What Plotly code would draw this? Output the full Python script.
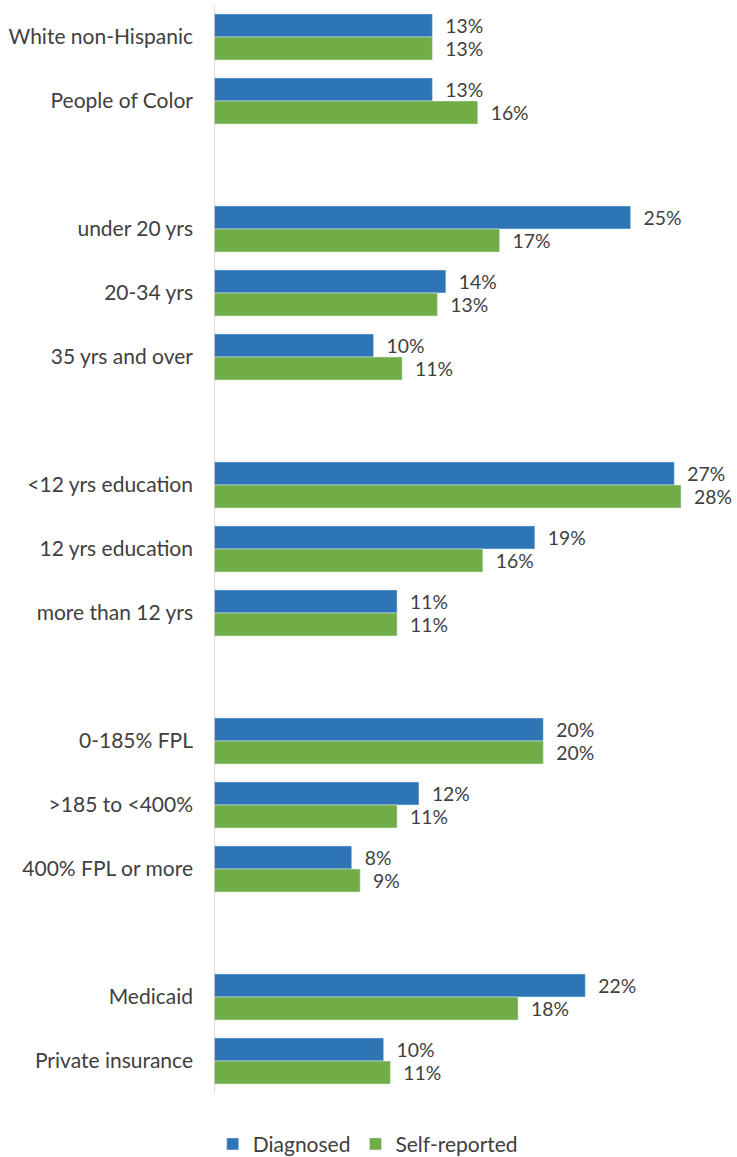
import plotly.graph_objects as go

groups = [
    ["White non-Hispanic", "People of Color"],
    ["under 20 yrs", "20-34 yrs", "35 yrs and over"],
    ["<12 yrs education", "12 yrs education", "more than 12 yrs"],
    ["0-185% FPL", ">185 to <400%", "400% FPL or more"],
    ["Medicaid", "Private insurance"],
]
# values (percent)
diagnosed = [13.0, 13.0, 24.8, 13.8, 9.5, 27.4, 19.1, 10.9, 19.6, 12.2, 8.2, 22.1, 10.1]
self_reported = [13.0, 15.7, 17.0, 13.3, 11.2, 27.8, 16.0, 10.9, 19.6, 10.9, 8.7, 18.1, 10.5]
# data labels as printed
diagnosed_labels = ["13%", "13%", "25%", "14%", "10%", "27%", "19%", "11%", "20%", "12%", "8%", "22%", "10%"]
self_reported_labels = ["13%", "16%", "17%", "13%", "11%", "28%", "16%", "11%", "20%", "11%", "9%", "18%", "11%"]

# positions: one blank slot between groups
categories, positions = [], []
pos = 0
for g in groups:
    for c in g:
        categories.append(c)
        positions.append(pos)
        pos += 1
    pos += 1
last = positions[-1]

FONT = "Lato"
FS = 21
TXT = "#404040"
fig = go.Figure()
fig.add_trace(go.Bar(
    y=positions, x=diagnosed, orientation="h", name="Diagnosed",
    marker_color="#2E75B6",
    text=["  " + t for t in diagnosed_labels], textposition="outside",
    textfont=dict(size=FS, color=TXT, family=FONT), cliponaxis=False,
    hoverinfo="x+name",
))
fig.add_trace(go.Bar(
    y=positions, x=self_reported, orientation="h", name="Self-reported",
    marker_color="#70AD47",
    text=["  " + t for t in self_reported_labels], textposition="outside",
    textfont=dict(size=FS, color=TXT, family=FONT), cliponaxis=False,
    hoverinfo="x+name",
))
fig.update_layout(
    width=737, height=1157,
    margin=dict(l=214, r=19, t=5, b=64, autoexpand=False),
    barmode="group", bargap=0.28, bargroupgap=0,
    plot_bgcolor="white", paper_bgcolor="white",
    font=dict(family=FONT, size=FS, color=TXT),
    showlegend=True,
    legend=dict(orientation="h", x=0.305, xanchor="center",
                yref="container", y=0.011, yanchor="middle",
                font=dict(size=FS, color=TXT), traceorder="normal", itemwidth=30),
)
fig.update_xaxes(range=[0, 30], visible=False)
fig.update_yaxes(
    range=[last + 0.5, -0.5], tickvals=positions, ticktext=categories,
    showgrid=False, zeroline=False, showline=False, ticks="",
    ticklabelstandoff=20, tickfont=dict(size=FS, color=TXT),
)
fig.add_shape(type="line", xref="x", yref="paper", x0=0, x1=0, y0=0, y1=1,
              line=dict(color="#D0D0D0", width=1.5))
fig.write_html("out.html")
